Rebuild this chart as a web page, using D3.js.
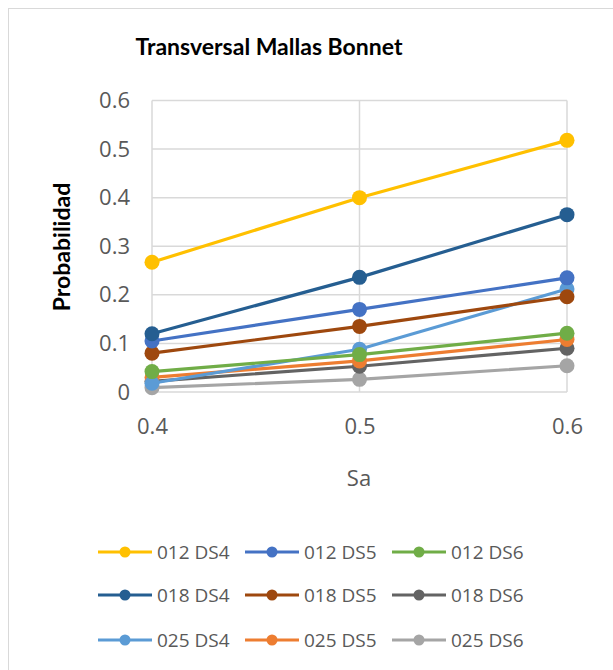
<!DOCTYPE html>
<html><head><meta charset="utf-8">
<script src="https://cdn.jsdelivr.net/npm/d3@7"></script>
<style>body{margin:0;background:#fff;} text{font-family:"Open Sans",sans-serif;}</style>
</head><body><svg id="c" width="613" height="670"></svg>
<script>
const xValues = [0.4, 0.5, 0.6];
const seriesNames = ["012 DS4","012 DS5","012 DS6","018 DS4","018 DS5","018 DS6","025 DS4","025 DS5","025 DS6"];
const s012DS4 = [0.267, 0.400, 0.518];
const s012DS5 = [0.105, 0.170, 0.235];
const s012DS6 = [0.042, 0.077, 0.121];
const s018DS4 = [0.120, 0.236, 0.365];
const s018DS5 = [0.080, 0.135, 0.196];
const s018DS6 = [0.022, 0.053, 0.090];
const s025DS4 = [0.018, 0.088, 0.212];
const s025DS5 = [0.030, 0.064, 0.108];
const s025DS6 = [0.009, 0.026, 0.054];
const yTicks = [0, 0.1, 0.2, 0.3, 0.4, 0.5, 0.6];
const colors = ["#FFC000","#4472C4","#70AD47","#255E91","#9E480E","#636363","#5B9BD5","#ED7D31","#A5A5A5"];
const allSeries = [s012DS4,s012DS5,s012DS6,s018DS4,s018DS5,s018DS6,s025DS4,s025DS5,s025DS6];

const svg = d3.select("#c");
svg.append("rect").attr("x",8.5).attr("y",8.5).attr("width",620).attr("height",680)
  .attr("fill","#fff").attr("stroke","#d9d9d9").attr("stroke-width",1);

const x = d3.scaleLinear().domain([0.4,0.6]).range([152,567]);
const y = d3.scaleLinear().domain([0,0.6]).range([392,100.5]);

const g = svg.append("g");
g.selectAll(".hg").data(yTicks).join("line")
  .attr("x1",152).attr("x2",567).attr("y1",d=>y(d)).attr("y2",d=>y(d))
  .attr("stroke","#d9d9d9").attr("stroke-width",1.5);
g.selectAll(".vg").data(xValues).join("line")
  .attr("x1",d=>x(d)).attr("x2",d=>x(d)).attr("y1",y(0.6)).attr("y2",y(0))
  .attr("stroke","#d9d9d9").attr("stroke-width",1.5);

const yAxis = d3.axisLeft(y).tickValues(yTicks).tickFormat(d=>d===0?"0":d3.format(".1f")(d)).tickSize(0).tickPadding(22);
const ya = svg.append("g").attr("transform","translate(152,0)").call(yAxis);
ya.select(".domain").remove();
ya.selectAll("text").attr("font-size",22).attr("fill","#595959").attr("font-family","'Open Sans',sans-serif");

const xAxis = d3.axisBottom(x).tickValues(xValues).tickFormat(d3.format(".1f")).tickSize(0).tickPadding(26);
const xa = svg.append("g").attr("transform","translate(0,392)").call(xAxis);
xa.select(".domain").remove();
xa.selectAll("text").attr("font-size",22).attr("fill","#595959").attr("font-family","'Open Sans',sans-serif");

svg.append("text").attr("x",269).attr("y",55).attr("text-anchor","middle").style("font-family","Lato,sans-serif")
  .attr("font-size",23).attr("font-weight","bold").attr("fill","#000").text("Transversal Mallas Bonnet");
svg.append("text").attr("transform","translate(70,247) rotate(-90)").attr("text-anchor","middle").style("font-family","Lato,sans-serif")
  .attr("font-size",23).attr("font-weight","bold").attr("fill","#000").text("Probabilidad");
svg.append("text").attr("x",359).attr("y",486).attr("text-anchor","middle")
  .attr("font-size",22).attr("fill","#595959").text("Sa");

const line = d3.line().x((d,i)=>x(xValues[i])).y(d=>y(d));
const draw = [8,5,7,6,2,4,1,3,0];
draw.forEach(k=>{
  const s = allSeries[k];
  svg.append("path").attr("d",line(s)).attr("fill","none").attr("stroke",colors[k]).attr("stroke-width",3.2).attr("stroke-linecap","round");
  svg.selectAll(null).data(s).join("circle").attr("cx",(d,i)=>x(xValues[i])).attr("cy",d=>y(d)).attr("r",7.5).attr("fill",colors[k]);
});

const legX = [98,245,392];
const legY = [552,595,640];
seriesNames.forEach((n,k)=>{
  const cx = legX[k%3], cy = legY[Math.floor(k/3)];
  svg.append("line").attr("x1",cx).attr("x2",cx+54).attr("y1",cy).attr("y2",cy).attr("stroke",colors[k]).attr("stroke-width",3.2);
  svg.append("circle").attr("cx",cx+27).attr("cy",cy).attr("r",5.5).attr("fill",colors[k]);
  svg.append("text").attr("x",cx+59).attr("y",cy).attr("dy","0.35em").attr("font-size",19).attr("fill","#595959").text(n);
});
</script></body></html>
